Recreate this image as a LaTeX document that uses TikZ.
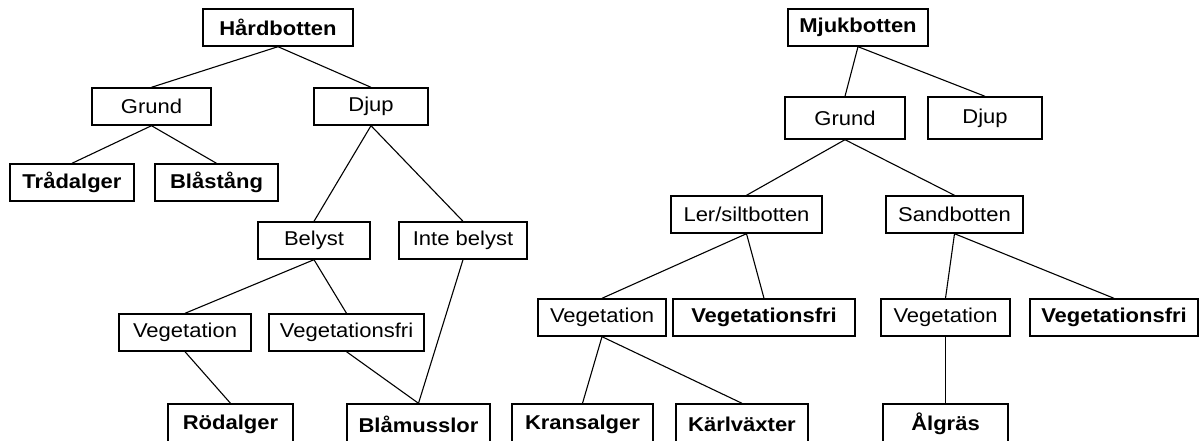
\documentclass[tikz,border=0pt]{standalone}
\usepackage{fontspec}
\setmainfont{Liberation Sans}[FakeStretch=1.1]
\tikzset{
  box/.style={draw,line width=1.4pt,rectangle,inner sep=0pt,minimum height=37pt,
    font=\fontsize{20}{22}\selectfont},
  boldbox/.style={box,font=\fontsize{20}{22}\selectfont\bfseries},
  conn/.style={line width=1.1pt}
}
\begin{document}
\begin{tikzpicture}[x=1pt,y=-1pt]
        \useasboundingbox (0,0) rectangle (1202,441);
        \clip (0,0) rectangle (1202,441);
        % Hardbotten
        \node[boldbox,minimum width=150pt] (hard) at (278,27.5) {Hårdbotten};
        \node[box,minimum width=119pt] (grundL) at (151.5,106.5) {Grund};
        \node[box,minimum width=114pt] (djupL) at (371,106.5) {Djup};
        \node[boldbox,minimum width=124pt] (trad) at (72,182.5) {Trådalger};
        \node[boldbox,minimum width=123pt] (blast) at (216.5,182.5) {Blåstång};
        \node[box,minimum width=112pt] (belyst) at (314,240.5) {Belyst};
        \node[box,minimum width=128pt] (inte) at (463,240.5) {Inte belyst};
        \node[box,minimum width=132pt] (vegL) at (185,332.5) {Vegetation};
        \node[box,minimum width=155pt] (vegfriL) at (346.5,332.5) {Vegetationsfri};
        \node[boldbox,minimum width=125pt,minimum height=40pt] (rod) at (230.5,424) {Rödalger};
        \node[boldbox,minimum width=143pt,minimum height=40pt] (blam) at (418.5,424) {Blåmusslor};
        % Mjukbotten
        \node[boldbox,minimum width=140pt] (mjuk) at (858,27.5) {Mjukbotten};
        \node[box,minimum width=120pt,minimum height=42pt] (grundR) at (845,118) {Grund};
        \node[box,minimum width=114pt,minimum height=42pt] (djupR) at (985,118) {Djup};
        \node[box,minimum width=151pt] (ler) at (746.5,214.5) {Ler/siltbotten};
        \node[box,minimum width=137pt] (sand) at (954.5,214.5) {Sandbotten};
        \node[box,minimum width=128pt] (vegM) at (602,317.5) {Vegetation};
        \node[boldbox,minimum width=182pt] (vegfriM) at (764,317.5) {Vegetationsfri};
        \node[box,minimum width=129pt] (vegR) at (945.5,317.5) {Vegetation};
        \node[boldbox,minimum width=168pt] (vegfriR) at (1114,317.5) {Vegetationsfri};
        \node[boldbox,minimum width=141pt,minimum height=40pt] (krans) at (582.5,424) {Kransalger};
        \node[boldbox,minimum width=132pt,minimum height=40pt] (karl) at (742,424) {Kärlväxter};
        \node[boldbox,minimum width=125pt,minimum height=40pt] (alg) at (945.5,424) {Ålgräs};
        % connectors
        \foreach \a/\b in {hard/grundL,hard/djupL,grundL/trad,grundL/blast,
            djupL/belyst,djupL/inte,belyst/vegL,belyst/vegfriL,vegL/rod,
            vegfriL/blam,inte/blam,mjuk/grundR,mjuk/djupR,grundR/ler,grundR/sand,
            ler/vegM,ler/vegfriM,sand/vegR,sand/vegfriR,vegM/krans,vegM/karl,vegR/alg}
            \draw[conn] (\a.south) -- (\b.north);
\end{tikzpicture}
\end{document}
